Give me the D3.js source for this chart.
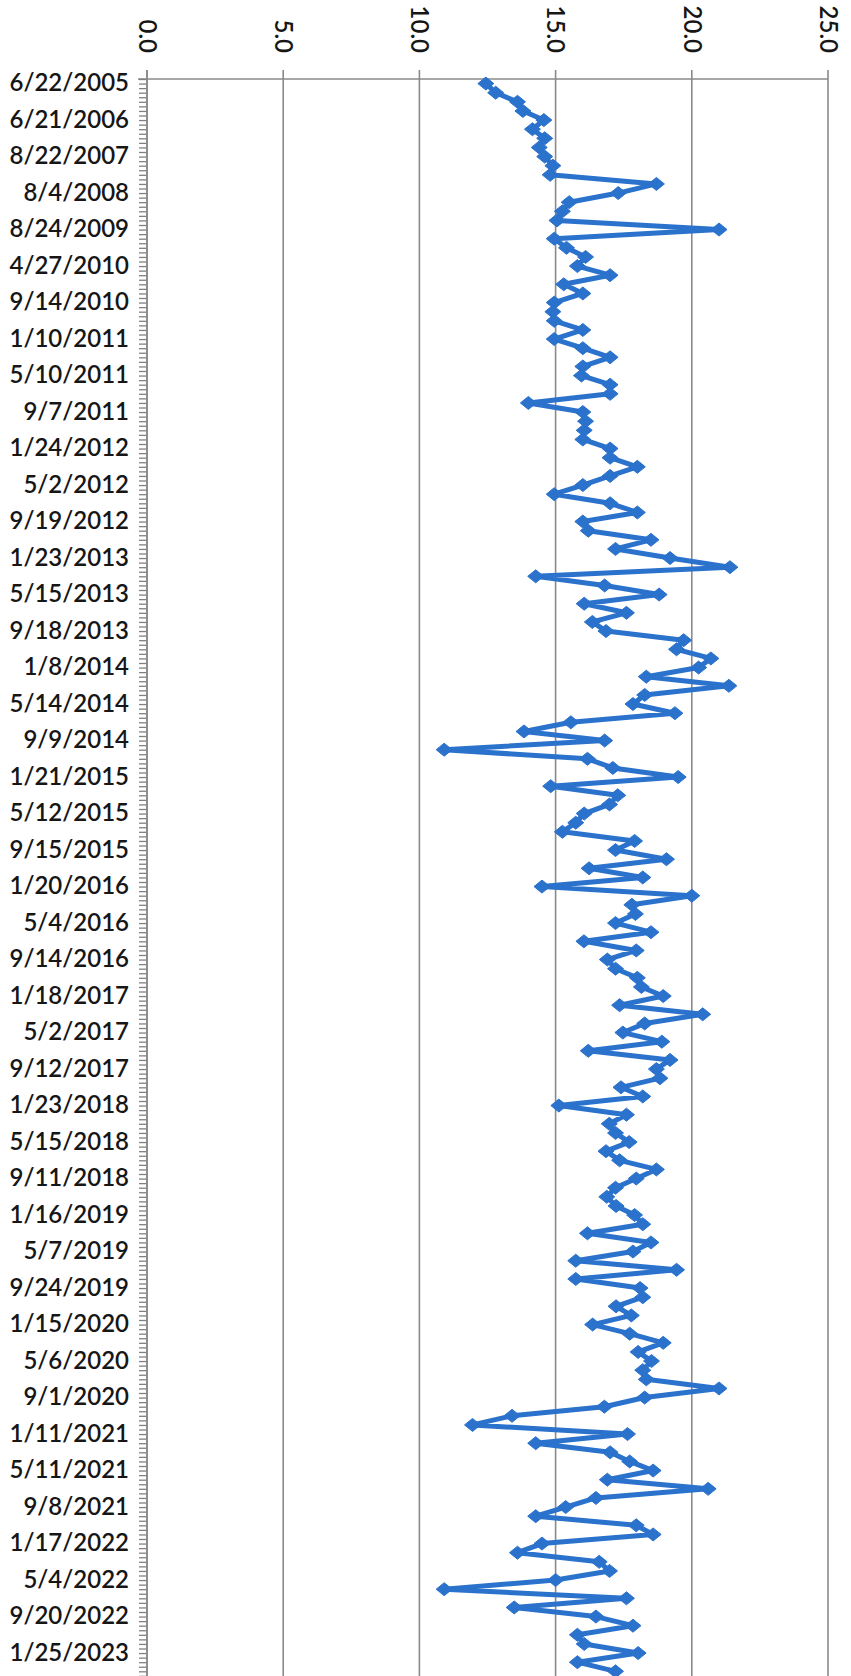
<!DOCTYPE html>
<html><head><meta charset="utf-8">
<script src="https://cdn.jsdelivr.net/npm/d3@7/dist/d3.min.js"></script>
<style>body{margin:0;background:#fff}svg{display:block}</style>
</head><body>
<svg id="c" width="851" height="1676"></svg>
<script>
// Category labels shown on the axis (every 4th category)
const dateLabels = [
  "6/22/2005","6/21/2006","8/22/2007","8/4/2008","8/24/2009","4/27/2010","9/14/2010",
  "1/10/2011","5/10/2011","9/7/2011","1/24/2012","5/2/2012","9/19/2012","1/23/2013",
  "5/15/2013","9/18/2013","1/8/2014","5/14/2014","9/9/2014","1/21/2015","5/12/2015",
  "9/15/2015","1/20/2016","5/4/2016","9/14/2016","1/18/2017","5/2/2017","9/12/2017",
  "1/23/2018","5/15/2018","9/11/2018","1/16/2019","5/7/2019","9/24/2019","1/15/2020",
  "5/6/2020","9/1/2020","1/11/2021","5/11/2021","9/8/2021","1/17/2022","5/4/2022",
  "9/20/2022","1/25/2023"
];
const labelEvery = 4;

// Series values, one per category
const values = [
  12.44,12.8,13.6,13.8,14.57,14.15,14.6,14.4,14.6,14.9,
  14.8,18.7,17.3,15.5,15.25,15.05,21.0,14.95,15.4,16.1,
  15.8,17.0,15.3,16.0,14.95,14.9,14.95,16.0,14.95,16.0,
  17.0,16.0,15.95,17.0,17.0,14.0,16.0,16.1,16.05,16.0,
  17.0,17.0,18.0,17.0,16.0,14.95,17.0,18.0,16.0,16.2,
  18.5,17.2,19.2,21.4,14.27,16.8,18.8,16.05,17.6,16.35,
  16.85,19.7,19.44,20.7,20.25,18.33,21.36,18.27,17.84,19.38,
  15.56,13.84,16.8,10.91,16.17,17.1,19.5,14.82,17.28,16.98,
  16.05,15.74,15.25,17.9,17.2,19.07,16.23,18.2,14.5,20.0,
  17.8,17.93,17.2,18.5,16.04,17.96,16.9,17.2,18.0,18.15,
  18.95,17.35,20.4,18.27,17.47,18.9,16.2,19.2,18.7,18.83,
  17.4,18.2,15.12,17.6,16.97,17.2,17.7,16.85,17.35,18.7,
  17.96,17.2,16.88,17.22,17.9,18.2,16.17,18.5,17.84,15.74,
  19.44,15.74,18.1,18.2,17.22,17.78,16.36,17.72,18.95,18.03,
  18.52,18.2,18.33,21.0,18.27,16.79,13.4,11.95,17.64,14.27,
  17.0,17.72,18.58,16.9,20.6,16.48,15.37,14.27,17.96,18.58,
  14.5,13.6,16.6,16.98,15.0,10.91,17.6,13.48,16.48,17.84,
  15.8,16.05,18.03,15.8,17.2
];
const valueTicks = [0,5,10,15,20,25];

(function(){
const W = 851, H = 1676;
const mLeft = 147, mRight = 828, mTop = 79, step = 9.125;
const N = values.length;
const svg = d3.select("#c");

const x = d3.scaleLinear().domain([0,25]).range([mLeft,mRight]);
const y = d3.scaleBand().domain(d3.range(N)).range([mTop, mTop + step*N]).padding(0);
const yc = i => y(i) + y.bandwidth()/2;
const yLin = d3.scaleLinear().domain([0,N]).range([mTop, mTop + step*N]);

const gridColor = "#8a8a8a";
const font = "Lato, 'Open Sans', sans-serif";
const textColor = "#161616";

// vertical gridlines
svg.append("g").selectAll("line").data(valueTicks).join("line")
  .attr("x1", d=>x(d)).attr("x2", d=>x(d))
  .attr("y1", mTop-9).attr("y2", H)
  .attr("stroke", gridColor).attr("stroke-width", 1.6);

// top value axis
const gTop = svg.append("g").attr("transform", `translate(0,${mTop})`)
  .call(d3.axisTop(x).tickValues(valueTicks).tickFormat(d3.format(".1f")).tickSize(0).tickPadding(0));
gTop.select(".domain").attr("stroke", gridColor).attr("stroke-width", 1.6)
  .attr("d", `M${mLeft-9},0H${mRight}`);
gTop.selectAll("text")
  .attr("x", 0).attr("y", 0).attr("dy", "0.36em")
  .attr("transform", `translate(0,${53-mTop}) rotate(90)`)
  .attr("text-anchor", "end")
  .style("font-family", font).style("font-size", "24px").style("font-weight", "600")
  .attr("fill", textColor);

// left category axis: ticks at half-category steps
const gTicks = svg.append("g").attr("transform", `translate(${mLeft},0)`)
  .call(d3.axisLeft(yLin).tickValues(d3.range(0, N + 0.01, 0.5)).tickSize(8).tickFormat(""));
gTicks.select(".domain").remove();
gTicks.selectAll("line").attr("stroke", "#808080").attr("stroke-width", 1.3);

// left labels
const gLab = svg.append("g").attr("transform", `translate(${mLeft},0)`)
  .call(d3.axisLeft(y).tickValues(d3.range(0, N, labelEvery)).tickSize(0).tickPadding(18)
        .tickFormat(i => dateLabels[i/labelEvery] || ""));
gLab.select(".domain").remove();
gLab.selectAll("text").style("font-family", font).style("font-size", "24px")
  .style("font-weight", "600").attr("fill", textColor);

// left axis line
svg.append("line").attr("x1", mLeft).attr("x2", mLeft).attr("y1", mTop-9).attr("y2", H)
  .attr("stroke", gridColor).attr("stroke-width", 1.6);

// series line
const blue = "#2a72cc";
svg.append("path").datum(values)
  .attr("fill", "none").attr("stroke", blue).attr("stroke-width", 5)
  .attr("stroke-linejoin", "round")
  .attr("d", d3.line().x(d=>x(d)).y((d,i)=>yc(i)));

// diamond markers
svg.append("g").selectAll("path").data(values).join("path")
  .attr("transform", (d,i)=>`translate(${x(d)},${yc(i)})`)
  .attr("d", "M0,-6.5L8,0L0,6.5L-8,0Z")
  .attr("fill", blue).attr("stroke", blue).attr("stroke-width", 1);
})();
</script>
</body></html>
